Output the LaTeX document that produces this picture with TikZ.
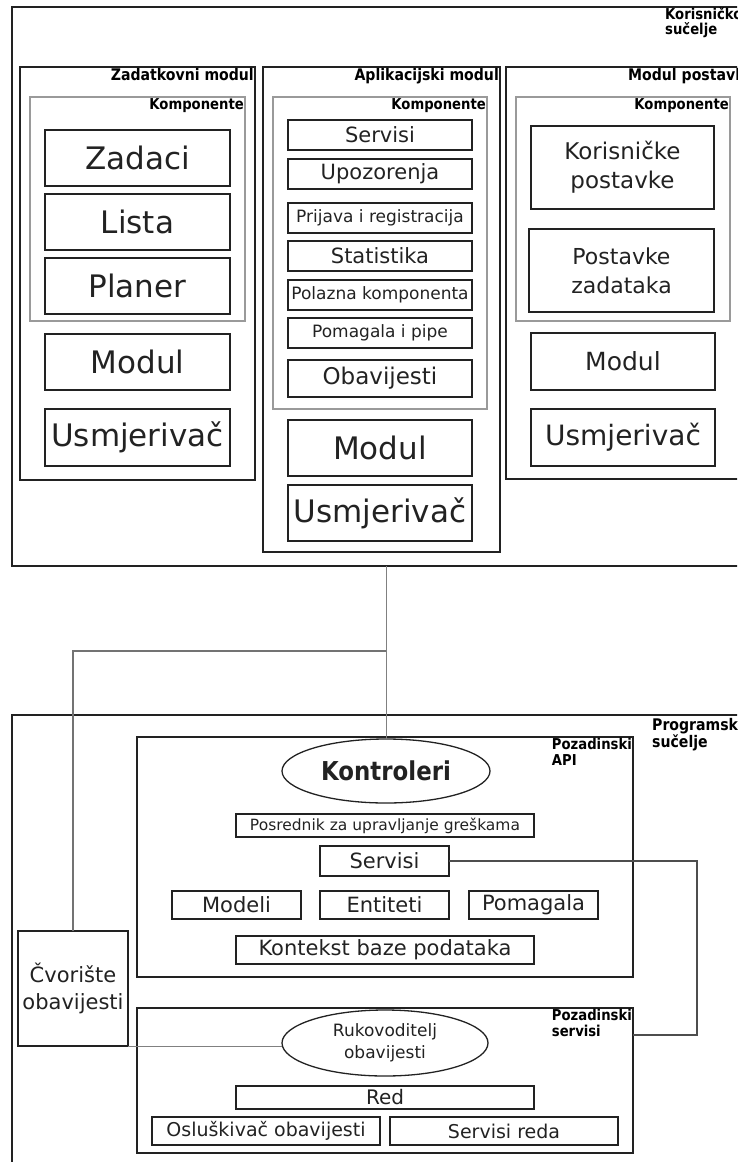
\documentclass[tikz,border=0pt]{standalone}
\usepackage{fontspec}
\setmainfont{DejaVu Sans}
\newfontfamily\tagfont[FakeStretch=0.88]{DejaVu Sans}
\usetikzlibrary{shapes.geometric,positioning}
\definecolor{ink}{HTML}{222222}
\definecolor{compgray}{HTML}{9A9A9A}
\newcommand\fsz[2]{\fontsize{#1}{#2}\selectfont}

\begin{document}
\begin{tikzpicture}[
    x=1pt, y=-1pt,
    group/.style={rectangle, draw=ink, line width=1.5pt, inner sep=0pt, outer sep=0pt},
    comp/.style={rectangle, draw=compgray, line width=1.5pt, inner sep=0pt, outer sep=0pt},
    box/.style={rectangle, draw=ink, line width=1.5pt, inner sep=0pt, outer sep=0pt, text=ink, align=center},
    oval/.style={ellipse, draw=ink, line width=1.3pt, inner sep=0pt, outer sep=0pt, text=ink, align=center},
    tag/.style={font=\tagfont\bfseries\fsz{15}{15}, text=black, inner sep=1pt, align=left},
    modtag/.style={tag, font=\tagfont\bfseries\fsz{16}{16}},
    big/.style={box, font=\fsz{31}{36}},
    mid/.style={box, font=\fsz{21}{25}},
    small/.style={box, font=\fsz{17}{20}},
    link/.style={draw=gray, line width=1pt},
    wire/.style={draw=ink!80, line width=1.2pt}
]
\useasboundingbox (0,0) rectangle (737,1162);
\clip (0,0) rectangle (737,1162);

% Korisnicko sucelje
\node[group, minimum width=748pt, minimum height=559pt] (ui) at (386,286.5) {};
\node[tag, anchor=north west, font=\tagfont\bfseries\fsz{15}{15}] (uilbl) at (664,6) {Korisničko\\sučelje};

% Zadatkovni modul
\node[group, minimum width=235pt, minimum height=413pt] (taskmod) at (137.5,273.5) {};
\node[modtag, anchor=north east] (tasklbl) at (taskmod.north east) {Zadatkovni modul};
\node[comp, minimum width=215pt, minimum height=224pt] (taskcomp) at (137.5,209) {};
\node[tag, anchor=north east] (taskcomplbl) at (taskcomp.north east) {Komponente};
\node[big, minimum width=185pt, minimum height=56pt] (zadaci) at (137.5,158) {Zadaci};
\node[big, minimum width=185pt, minimum height=56pt] (lista) at (137.5,222) {Lista};
\node[big, minimum width=185pt, minimum height=56pt] (planer) at (137.5,286) {Planer};
\node[big, minimum width=185pt, minimum height=56pt] (taskmodul) at (137.5,362) {Modul};
\node[big, minimum width=185pt, minimum height=57pt] (taskrouter) at (137.5,437.5) {Usmjerivač};

% Aplikacijski modul
\node[group, minimum width=237pt, minimum height=485pt] (appmod) at (381.5,309.5) {};
\node[modtag, anchor=north east] (applbl) at (appmod.north east) {Aplikacijski modul};
\node[comp, minimum width=214pt, minimum height=312pt] (appcomp) at (380,253) {};
\node[tag, anchor=north east] (appcomplbl) at (appcomp.north east) {Komponente};
\node[mid, minimum width=184pt, minimum height=30pt] (appsrv) at (380,135) {Servisi};
\node[mid, minimum width=184pt, minimum height=30pt] (alerts) at (380,174) {Upozorenja};
\node[small, minimum width=184pt, minimum height=30pt] (login) at (380,218) {Prijava i registracija};
\node[mid, minimum width=184pt, minimum height=30pt] (stats) at (380,256) {Statistika};
\node[small, minimum width=184pt, minimum height=30pt] (landing) at (380,295) {Polazna komponenta};
\node[small, minimum width=184pt, minimum height=30pt] (pipes) at (380,333) {Pomagala i pipe};
\node[box, font=\fsz{23}{27}, minimum width=184pt, minimum height=37pt] (notif) at (380,378.5) {Obavijesti};
\node[big, minimum width=184pt, minimum height=56pt] (appmodul) at (380,448) {Modul};
\node[big, minimum width=184pt, minimum height=56pt] (approuter) at (380,513) {Usmjerivač};

% Modul postavki
\node[group, minimum width=254pt, minimum height=412pt] (setmod) at (633,273) {};
\node[modtag, anchor=north west] (setlbl) at (627,67) {Modul postavki};
\node[comp, minimum width=214pt, minimum height=224pt] (setcomp) at (623,209) {};
\node[tag, anchor=north east] (setcomplbl) at (setcomp.north east) {Komponente};
\node[box, font=\fsz{23}{29}, minimum width=183pt, minimum height=83pt] (usrset) at (622.5,167.5) {Korisničke\\postavke};
\node[box, font=\fsz{22}{29}, minimum width=185pt, minimum height=83pt] (taskset) at (621.5,270.5) {Postavke\\zadataka};
\node[box, font=\fsz{25}{30}, minimum width=184pt, minimum height=57pt] (setmodul) at (623,361.5) {Modul};
\node[box, font=\fsz{28}{32}, minimum width=184pt, minimum height=57pt] (setrouter) at (623,437.5) {Usmjerivač};

% Programsko sucelje
\node[group, minimum width=748pt, minimum height=465pt] (backend) at (386,947.5) {};
\node[modtag, anchor=north west, font=\tagfont\bfseries\fsz{16}{17}] (backlbl) at (651,717) {Programsko\\sučelje};

% Pozadinski API
\node[group, minimum width=496pt, minimum height=240pt] (api) at (385,857) {};
\node[tag, anchor=north east, font=\tagfont\bfseries\fsz{15}{16}] (apilbl) at (api.north east) {Pozadinski\\API};
\node[oval, font=\tagfont\bfseries\fsz{26}{30}, minimum width=208pt, minimum height=64pt] (ctrl) at (386,771) {Kontroleri};
\node[box, font=\fsz{15.5}{18}, minimum width=298pt, minimum height=23pt] (errmw) at (385,825.5) {Posrednik za upravljanje greškama};
\node[mid, minimum width=129pt, minimum height=30pt] (apisrv) at (384.5,861) {Servisi};
\node[mid, minimum width=129pt, minimum height=28pt] (models) at (236.5,905) {Modeli};
\node[mid, minimum width=129pt, minimum height=28pt] (entities) at (384.5,905) {Entiteti};
\node[mid, minimum width=129pt, minimum height=28pt] (helpers) at (533.5,905) {Pomagala};
\node[mid, minimum width=298pt, minimum height=28pt] (dbctx) at (385,950) {Kontekst baze podataka};

% Cvoriste obavijesti
\node[box, font=\fsz{21}{27}, fill=white, minimum width=110pt, minimum height=115pt] (hub) at (73,988.5) {Čvorište\\obavijesti};

% Pozadinski servisi
\node[group, minimum width=496pt, minimum height=145pt] (bsrv) at (385,1080.5) {};
\node[tag, anchor=north east, font=\tagfont\bfseries\fsz{15}{16}] (bsrvlbl) at (bsrv.north east) {Pozadinski\\servisi};
\node[oval, font=\fsz{17}{22}, minimum width=206pt, minimum height=66pt] (handler) at (385,1043) {Rukovoditelj\\obavijesti};
\node[box, font=\fsz{20}{22}, minimum width=298pt, minimum height=23pt] (queue) at (385,1097.5) {Red};
\node[box, font=\fsz{19}{22}, minimum width=228pt, minimum height=28pt] (listener) at (266,1131) {Osluškivač obavijesti};
\node[box, font=\fsz{19}{22}, minimum width=228pt, minimum height=28pt] (qsrv) at (504,1131) {Servisi reda};

% Veze
\coordinate (split) at (386,651);
\coordinate (bend) at (697,1035);
\draw[link] (ctrl.north |- ui.south) -- (ctrl.north);
\draw[wire, draw=gray!90!black] (split) -| (hub.north);
\draw[wire] (apisrv.east) -| (bend) -- (bsrv.east |- bend);
\draw[link] (hub.south east) -- (hub.south east -| handler.west);

\end{tikzpicture}
\end{document}
